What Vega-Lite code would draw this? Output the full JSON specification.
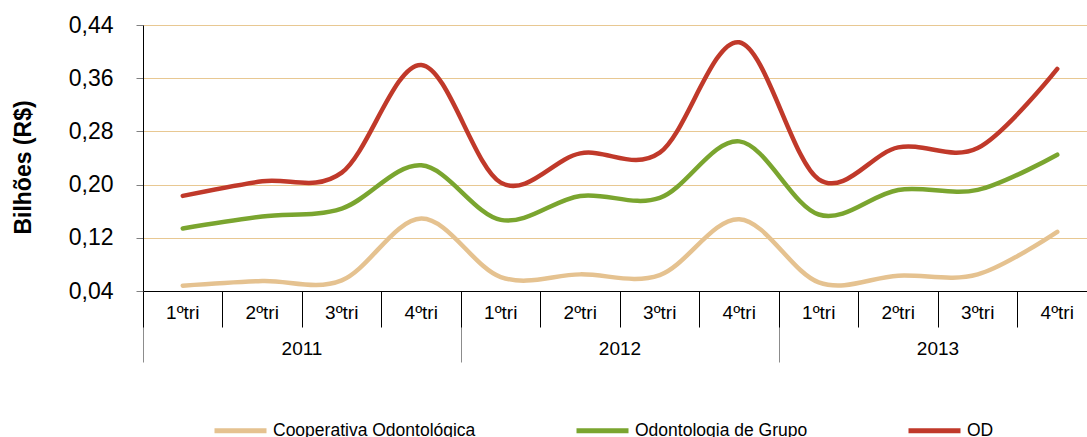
{
  "$schema": "https://vega.github.io/schema/vega-lite/v6.json",
  "width": 954,
  "height": 266,
  "autosize": {"type": "none"},
  "padding": {"left": 143, "top": 25, "right": 0, "bottom": 146},
  "background": "white",
  "config": {"view": {"stroke": null}, "font": "Liberation Sans"},
  "datasets": {
    "years": [{"year": "2011"}, {"year": "2012"}, {"year": "2013"}],
    "d": [
      {"key": "2011|1ºtri", "serie": "Cooperativa Odontológica", "valor": 0.048},
      {"key": "2011|2ºtri", "serie": "Cooperativa Odontológica", "valor": 0.055},
      {"key": "2011|3ºtri", "serie": "Cooperativa Odontológica", "valor": 0.056},
      {"key": "2011|4ºtri", "serie": "Cooperativa Odontológica", "valor": 0.149},
      {"key": "2012|1ºtri", "serie": "Cooperativa Odontológica", "valor": 0.061},
      {"key": "2012|2ºtri", "serie": "Cooperativa Odontológica", "valor": 0.065},
      {"key": "2012|3ºtri", "serie": "Cooperativa Odontológica", "valor": 0.064},
      {"key": "2012|4ºtri", "serie": "Cooperativa Odontológica", "valor": 0.148},
      {"key": "2013|1ºtri", "serie": "Cooperativa Odontológica", "valor": 0.053},
      {"key": "2013|2ºtri", "serie": "Cooperativa Odontológica", "valor": 0.063},
      {"key": "2013|3ºtri", "serie": "Cooperativa Odontológica", "valor": 0.065},
      {"key": "2013|4ºtri", "serie": "Cooperativa Odontológica", "valor": 0.129},
      {"key": "2011|1ºtri", "serie": "Odontologia de Grupo", "valor": 0.134},
      {"key": "2011|2ºtri", "serie": "Odontologia de Grupo", "valor": 0.152},
      {"key": "2011|3ºtri", "serie": "Odontologia de Grupo", "valor": 0.164},
      {"key": "2011|4ºtri", "serie": "Odontologia de Grupo", "valor": 0.229},
      {"key": "2012|1ºtri", "serie": "Odontologia de Grupo", "valor": 0.147},
      {"key": "2012|2ºtri", "serie": "Odontologia de Grupo", "valor": 0.183},
      {"key": "2012|3ºtri", "serie": "Odontologia de Grupo", "valor": 0.180},
      {"key": "2012|4ºtri", "serie": "Odontologia de Grupo", "valor": 0.265},
      {"key": "2013|1ºtri", "serie": "Odontologia de Grupo", "valor": 0.155},
      {"key": "2013|2ºtri", "serie": "Odontologia de Grupo", "valor": 0.192},
      {"key": "2013|3ºtri", "serie": "Odontologia de Grupo", "valor": 0.192},
      {"key": "2013|4ºtri", "serie": "Odontologia de Grupo", "valor": 0.245},
      {"key": "2011|1ºtri", "serie": "OD", "valor": 0.183},
      {"key": "2011|2ºtri", "serie": "OD", "valor": 0.205},
      {"key": "2011|3ºtri", "serie": "OD", "valor": 0.218},
      {"key": "2011|4ºtri", "serie": "OD", "valor": 0.380},
      {"key": "2012|1ºtri", "serie": "OD", "valor": 0.203},
      {"key": "2012|2ºtri", "serie": "OD", "valor": 0.247},
      {"key": "2012|3ºtri", "serie": "OD", "valor": 0.248},
      {"key": "2012|4ºtri", "serie": "OD", "valor": 0.414},
      {"key": "2013|1ºtri", "serie": "OD", "valor": 0.208},
      {"key": "2013|2ºtri", "serie": "OD", "valor": 0.256},
      {"key": "2013|3ºtri", "serie": "OD", "valor": 0.255},
      {"key": "2013|4ºtri", "serie": "OD", "valor": 0.374}
    ]
  },
  "layer": [
    {
      "data": {"name": "years"},
      "mark": {"type": "tick", "opacity": 0},
      "encoding": {
        "x": {
          "field": "year",
          "type": "ordinal",
          "sort": null,
          "scale": {"type": "band", "paddingInner": 0, "paddingOuter": 0},
          "axis": {
            "title": null,
            "orient": "bottom",
            "domain": false,
            "bandPosition": 0,
            "tickSize": 71,
            "tickColor": "#8c8c8c",
            "tickWidth": 1,
            "labelFontSize": 19,
            "labelColor": "black",
            "labelPadding": -23,
            "labelAngle": 0,
            "grid": false
          }
        }
      }
    },
    {
      "data": {"name": "d"},
      "mark": {"type": "line", "interpolate": "cardinal", "strokeWidth": 4.5, "strokeCap": "round"},
      "encoding": {
        "x": {
          "field": "key",
          "type": "ordinal",
          "sort": null,
          "scale": {"type": "band", "paddingInner": 0, "paddingOuter": 0},
          "axis": {
            "title": null,
            "orient": "bottom",
            "domainColor": "black",
            "domainWidth": 1,
            "bandPosition": 0,
            "tickSize": 36,
            "tickColor": "black",
            "tickWidth": 1,
            "labelExpr": "split(datum.label, '|')[1]",
            "labelFontSize": 19,
            "labelColor": "black",
            "labelPadding": -24,
            "labelAngle": 0,
            "grid": false
          }
        },
        "y": {
          "field": "valor",
          "type": "quantitative",
          "scale": {"domain": [0.04, 0.44], "nice": false, "zero": false},
          "axis": {
            "values": [0.04, 0.12, 0.2, 0.28, 0.36, 0.44],
            "labelExpr": "replace(format(datum.value, '.2f'), '.', ',')",
            "labelFontSize": 23,
            "labelColor": "black",
            "labelPadding": 23,
            "tickSize": 7,
            "tickColor": "#808080",
            "domainColor": "black",
            "gridColor": "#E8C892",
            "gridWidth": 1,
            "title": "Bilhões (R$)",
            "titleFontSize": 23,
            "titleFontWeight": "bold",
            "titleColor": "black",
            "titleX": -120,
            "titleY": 142,
            "titleAngle": -90,
            "titleBaseline": "middle",
            "titleAlign": "center"
          }
        },
        "color": {
          "field": "serie",
          "type": "nominal",
          "sort": null,
          "scale": {
            "domain": ["Cooperativa Odontológica", "Odontologia de Grupo", "OD"],
            "range": ["#E5C290", "#7AA52F", "#C0392A"]
          },
          "legend": {
            "title": null,
            "orient": "none",
            "legendX": 69,
            "legendY": 377,
            "direction": "horizontal",
            "columns": 3,
            "columnPadding": 90,
            "symbolType": "stroke",
            "symbolSize": 2704,
            "symbolStrokeWidth": 5,
            "labelFontSize": 17.5,
            "labelColor": "black",
            "labelOffset": 4,
            "labelLimit": 400
          }
        }
      }
    }
  ],
  "resolve": {"scale": {"x": "independent"}, "axis": {"x": "independent"}}
}
